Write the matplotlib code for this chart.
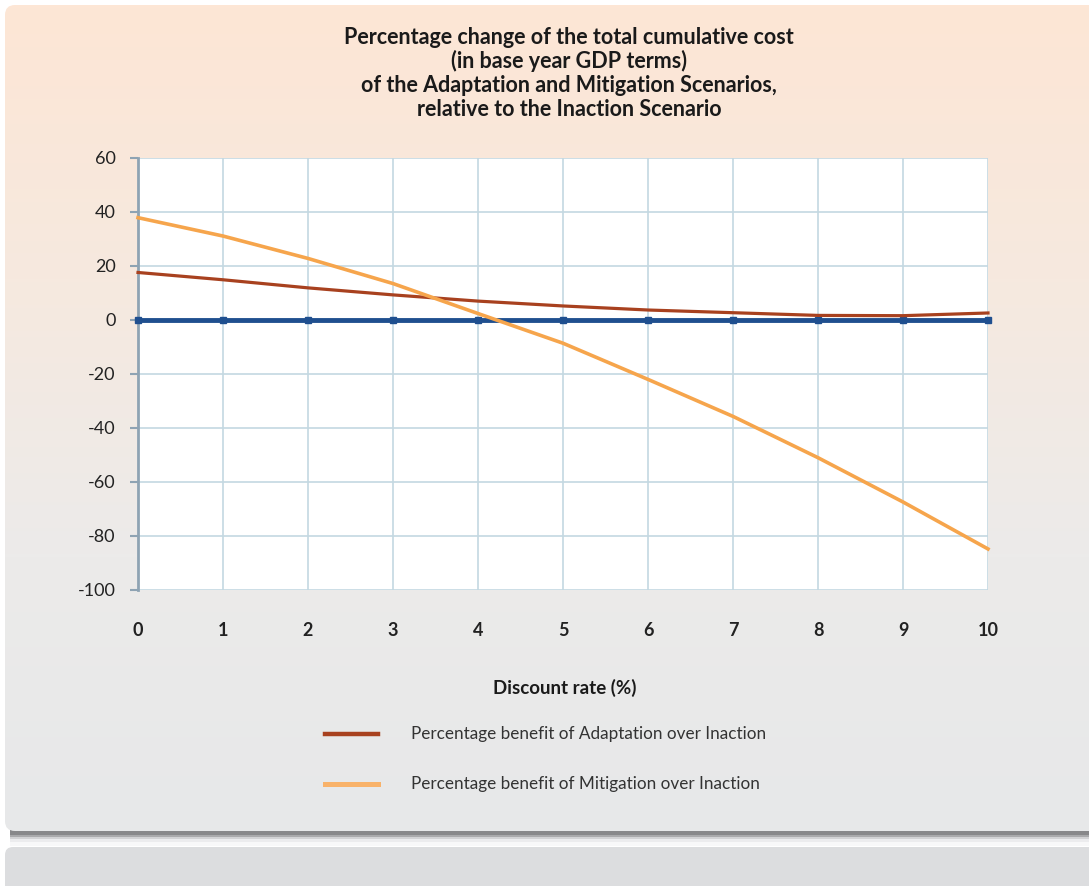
import numpy as np
import matplotlib
matplotlib.use("Agg")
import matplotlib.pyplot as plt
from matplotlib.patches import FancyBboxPatch, Rectangle
from matplotlib.colors import LinearSegmentedColormap

plt.rcParams['font.family'] = ['Lato', 'DejaVu Sans']

# Discount rate (%) and percentage benefits relative to the Inaction Scenario
discount_rate = [0, 1, 2, 3, 4, 5, 6, 7, 8, 9, 10]
adaptation = [17.6, 14.9, 11.9, 9.3, 7.0, 5.2, 3.7, 2.7, 1.7, 1.6, 2.6]
mitigation = [37.9, 31.1, 22.8, 13.5, 2.4, -8.6, -22.0, -35.7, -51.0, -67.4, -84.8]
inaction = [0, 0, 0, 0, 0, 0, 0, 0, 0, 0, 0]

y_ticks = [60, 40, 20, 0, -20, -40, -60, -80, -100]
x_ticks = [0, 1, 2, 3, 4, 5, 6, 7, 8, 9, 10]

title_lines = ["Percentage change of the total cumulative cost",
               "(in base year GDP terms)",
               "of the Adaptation and Mitigation Scenarios,",
               "relative to the Inaction Scenario"]
label_adapt = "Percentage benefit of Adaptation over Inaction"
label_mitig = "Percentage benefit of Mitigation over Inaction"

W, H = 1089, 886
fig = plt.figure(figsize=(W / 100, H / 100), dpi=100)
fig.patch.set_facecolor("white")

# ---- panel background in pixel coordinates ----
bg = fig.add_axes([0, 0, 1, 1], zorder=-5)
bg.set_xlim(0, W)
bg.set_ylim(H, 0)
bg.axis("off")

# drop shadow under the main panel
shadow = [(829, 6, "#88888a"), (835, 2, "#a9a9ab"), (837, 2, "#d2d2d4"),
          (839, 3, "#ececee"), (842, 4, "#f8f8f9")]
for y0, h, c in shadow:
    bg.add_patch(Rectangle((10, y0), W, h, facecolor=c, edgecolor="none", zorder=1))

panel = FancyBboxPatch((5, 5), W + 20, 826, boxstyle="round,pad=0,rounding_size=10",
                       facecolor="none", edgecolor="none", zorder=2)
bg.add_patch(panel)
grad = LinearSegmentedColormap.from_list("g", ["#fde6d5", "#f6e9df", "#ecebea", "#e7e8e9"])
img = bg.imshow(np.linspace(0, 1, 256).reshape(-1, 1), cmap=grad, aspect="auto",
                extent=(5, W + 25, 831, 5), zorder=2)
img.set_clip_path(panel)

# lower gray bar
bg.add_patch(FancyBboxPatch((5, 847), W + 20, 60, boxstyle="round,pad=0,rounding_size=8",
                            facecolor="#dcdddf", edgecolor="none", zorder=2))

# ---- chart ----
ax = fig.add_axes([138 / W, 1 - 590 / H, 850 / W, 432 / H])
ax.set_facecolor("white")
ax.set_xlim(0, 10)
ax.set_ylim(-100, 60)

grid_c = "#c4d8e2"
ax.set_yticks(y_ticks)
ax.set_xticks(x_ticks)
ax.grid(True, color=grid_c, linewidth=1.2)
ax.set_axisbelow(True)
for s in ["top", "right", "bottom"]:
    ax.spines[s].set_visible(False)
ax.spines["left"].set_color("#8ea3b3")
ax.spines["left"].set_linewidth(2)
ax.tick_params(axis="y", length=6, width=1.5, color="#8ea3b3", pad=10,
               labelsize=13, labelcolor="#222222")
ax.tick_params(axis="x", length=0, pad=23, labelsize=13, labelcolor="#222222")
ax.set_yticklabels([str(v) for v in y_ticks])
ax.set_xticklabels([str(v) for v in x_ticks], fontweight="bold")

ax.plot(discount_rate, inaction, color="#1f4f8f", linewidth=3.5, marker="s",
        markersize=5, zorder=3, clip_on=False)
ax.plot(discount_rate, adaptation, color="#a8411f", linewidth=2.3, zorder=4, clip_on=False)
ax.plot(discount_rate, mitigation, color="#f6a54c", linewidth=2.6, zorder=5, clip_on=False)

# title, one baseline every 24 px
for i, line in enumerate(title_lines):
    fig.text(569 / W, 1 - (44 + 24 * i) / H, line, ha="center", va="baseline",
             fontsize=15.5, fontweight="bold", color="#1a1a1a")
fig.text(565 / W, 1 - 688 / H, "Discount rate (%)", ha="center", va="center",
         fontsize=13.5, fontweight="bold", color="#1a1a1a")

# legend entries
lx0, lx1, tx = 325 / W, 378 / W, 411 / W
for yy, col, lab, lw in [(734, "#a8411f", label_adapt, 3.2), (784, "#f8b26a", label_mitig, 3.6)]:
    yf = 1 - yy / H
    fig.add_artist(plt.Line2D([lx0, lx1], [yf, yf], color=col, linewidth=lw,
                              transform=fig.transFigure))
    fig.text(tx, yf, lab, ha="left", va="center", fontsize=12.3, color="#333333")

fig.savefig("out.png", dpi=100)
